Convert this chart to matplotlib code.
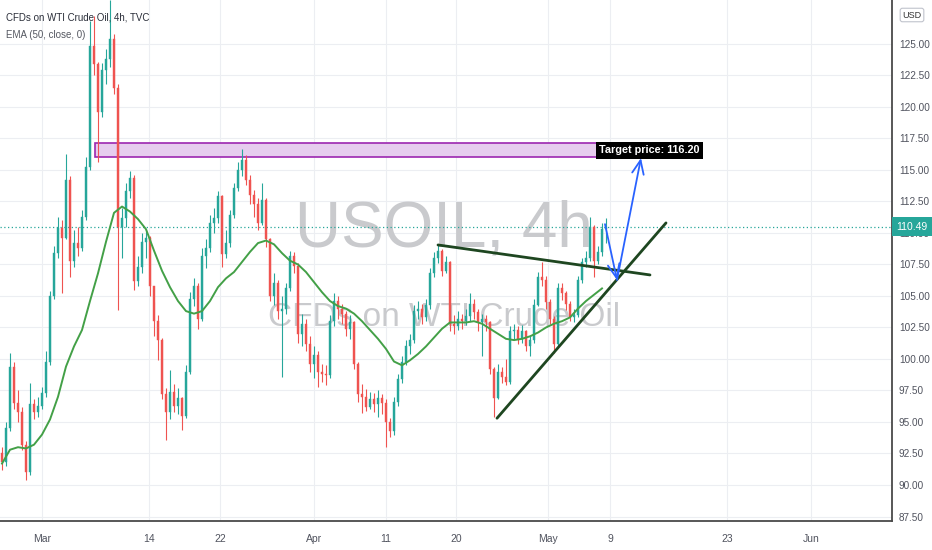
import numpy as np
import matplotlib
matplotlib.use("Agg")
import matplotlib.pyplot as plt
from matplotlib.patches import Rectangle

# 4h candles, USOIL, open = previous close
first_open = 92.5
close = [91.8, 94.5, 99.4, 96.5, 95.8, 93.2, 91.0, 96.4, 95.8, 96.3,
         97.3, 99.8, 105.0, 108.4, 110.4, 109.6, 114.2, 107.8, 109.2, 108.8,
         111.3, 115.2, 124.8, 123.4, 119.6, 122.9, 123.8, 125.4, 121.5, 110.5,
         111.2, 113.3, 114.4, 106.2, 107.3, 109.3, 109.6, 105.8, 103.0, 101.5,
         97.2, 95.8, 97.4, 96.3, 96.9, 95.5, 99.0, 104.8, 105.8, 103.2,
         108.2, 108.8, 110.8, 111.2, 112.9, 108.3, 109.2, 111.4, 113.6, 115.0,
         115.8, 114.2, 113.0, 112.3, 110.8, 112.6, 109.5, 105.0, 106.0, 103.8,
         104.0, 105.6, 108.2, 107.4, 102.0, 102.8, 101.2, 99.6, 100.3, 99.0,
         98.8, 98.7, 103.0, 104.6, 104.0, 103.6, 102.4, 102.9, 99.6, 97.2,
         97.0, 96.2, 96.8, 96.4, 96.9, 96.5, 95.0, 94.3, 96.6, 98.4,
         99.8, 101.0, 101.5, 103.8, 104.0, 103.3, 104.3, 106.8, 108.0, 108.6,
         107.0, 107.7, 102.8, 102.6, 103.2, 103.0, 103.4, 104.4, 103.7, 102.9,
         103.2, 102.9, 99.2, 96.9, 99.0, 98.6, 98.2, 102.2, 102.3, 101.6,
         102.2, 101.0, 101.5, 104.3, 106.5, 106.3, 104.5, 103.2, 101.2, 105.6,
         105.2, 104.4, 103.3, 103.5, 106.3, 107.7, 108.0, 110.5, 107.8, 108.5,
         110.3, 110.49]
high = [93.0, 95.0, 100.5, 99.8, 97.5, 96.2, 93.5, 98.1, 96.8, 97.0,
        97.8, 100.6, 105.4, 109.0, 111.3, 111.0, 116.3, 114.5, 110.2, 110.5,
        111.8, 116.0, 126.8, 127.2, 123.6, 123.5, 124.6, 128.5, 125.8, 121.8,
        112.0, 114.0, 114.9, 114.6, 108.2, 110.0, 110.3, 109.8, 104.5, 103.5,
        101.7, 97.7, 99.1, 98.0, 97.7, 97.0, 99.5, 105.3, 106.4, 106.0,
        108.8, 109.5, 111.4, 112.0, 113.3, 113.0, 110.2, 111.8, 114.0, 115.6,
        116.7, 116.2, 114.6, 113.4, 112.8, 114.0, 112.8, 109.6, 106.8, 106.3,
        105.0, 106.0, 108.6, 108.5, 107.6, 103.6, 103.2, 101.8, 101.0, 100.6,
        99.6, 99.5, 103.5, 105.2, 105.0, 104.4, 103.8, 103.5, 103.0, 99.8,
        98.0, 97.6, 97.4, 97.3, 97.5, 97.2, 96.8, 95.3, 97.0, 98.8,
        100.2, 101.5, 102.0, 104.3, 104.6, 104.4, 104.8, 107.2, 108.5, 109.1,
        108.7, 108.2, 107.8, 103.5, 103.8, 103.6, 104.0, 105.2, 104.8, 104.0,
        103.6, 103.5, 103.0, 99.4, 99.6, 99.4, 100.0, 102.6, 102.8, 102.6,
        102.7, 102.3, 101.8, 104.8, 106.9, 107.7, 106.6, 104.8, 103.4, 106.0,
        106.0, 105.4, 104.6, 104.0, 106.6, 108.0, 108.6, 111.3, 110.6, 109.0,
        110.8, 111.2]
low = [91.2, 91.5, 94.3, 96.0, 95.0, 92.8, 90.4, 90.8, 95.2, 95.4,
       96.0, 97.0, 99.5, 104.8, 108.0, 105.2, 109.5, 106.5, 107.3, 108.2,
       108.6, 111.0, 115.0, 122.5, 115.6, 119.2, 121.8, 123.2, 121.0, 103.9,
       108.0, 110.5, 112.8, 105.5, 105.8, 106.8, 108.0, 105.0, 101.8, 99.9,
       96.8, 93.6, 95.2, 95.8, 95.6, 94.4, 95.3, 98.8, 104.2, 102.4,
       103.0, 107.2, 108.5, 110.0, 110.8, 107.3, 108.0, 108.9, 111.2, 113.3,
       114.5, 113.8, 112.3, 111.3, 110.2, 110.6, 108.9, 104.6, 104.3, 103.2,
       98.6, 103.6, 105.4, 106.8, 101.3, 101.0, 100.6, 99.0, 98.5, 97.8,
       98.2, 97.9, 98.5, 102.6, 103.2, 102.8, 101.8, 101.6, 99.2, 96.6,
       95.7, 95.9, 96.0, 95.8, 95.4, 95.6, 93.0, 93.8, 94.0, 96.3,
       98.1, 99.5, 100.4, 101.3, 103.2, 102.8, 103.0, 104.0, 106.5, 107.6,
       106.6, 106.8, 102.2, 102.0, 102.3, 102.4, 102.7, 103.0, 103.2, 102.2,
       100.2, 102.2, 98.8, 95.4, 96.8, 98.1, 97.9, 98.0, 101.6, 101.2,
       101.3, 100.6, 100.2, 101.3, 104.2, 105.8, 104.0, 102.8, 100.5, 101.0,
       104.7, 103.9, 103.0, 102.9, 103.3, 106.0, 107.3, 107.8, 106.5, 107.5,
       108.2, 109.2]

# EMA(50, close) read every second candle
ema = [91.7, 92.8, 93.0, 92.9, 93.2, 94.0, 95.2, 97.0, 99.4, 101.0,
       102.3, 104.6, 106.8, 109.3, 111.6, 112.1, 111.7, 111.1, 110.3, 108.6,
       107.0, 105.7, 104.6, 103.8, 103.6, 103.8, 104.6, 105.7, 106.4, 106.9,
       107.7, 108.5, 109.2, 109.4, 109.1, 108.4, 107.8, 107.5, 106.9, 106.1,
       105.3, 104.6, 104.2, 104.0, 103.6, 103.0, 102.3, 101.6, 100.8, 99.8,
       99.5, 99.9, 100.4, 101.0, 101.7, 102.4, 102.9, 102.9, 102.9, 103.0,
       102.8, 102.4, 102.0, 101.6, 101.5, 101.6, 101.8, 102.1, 102.5, 102.8,
       103.0, 103.3, 104.0, 104.6, 105.1, 105.6]

date_labels = ["Mar", "14", "22", "Apr", "11", "20", "May", "9", "23", "Jun"]
date_pos = [10, 36.75, 54.5, 78, 96, 113.5, 136.5, 152, 181.25, 202.25]

# drawings
zone_top, zone_bottom = 117.15, 116.05
upper_line = ([109, 162], [109.05, 106.67])
lower_line = ([123.75, 166], [95.3, 110.8])
arrow_pts = ([150.75, 153.75, 159.75], [110.7, 106.27, 115.95])
target_text = "Target price: 116.20"

UP, DOWN = "#26a69a", "#ef5350"
NARROW = ["Liberation Sans Narrow", "Liberation Sans", "DejaVu Sans"]
plt.rcParams["font.family"] = NARROW

fig = plt.figure(figsize=(9.32, 5.5), dpi=100)
ax = fig.add_axes([0, 29 / 550, 892 / 932, 521 / 550])

c = np.array(close)
o = np.concatenate([[first_open], c[:-1]])
h = np.array(high)
l = np.array(low)
x = np.arange(len(c))
cols = np.where(c >= o, UP, DOWN)

ax.vlines(x, l, h, colors=cols, lw=0.8, zorder=3)
body = np.maximum(np.abs(c - o), 0.08)
ax.bar(x, body, bottom=np.minimum(o, c), width=0.62, color=cols,
       edgecolor=cols, lw=0.3, zorder=4)

ax.plot(np.arange(0, 2 * len(ema), 2), ema, color="#43a047", lw=1.4, zorder=5)

# watermark
ax.text(110.5, 110.3, "USOIL, 4h", fontsize=46, color="#c9cacd", ha="center",
        va="center", zorder=1)
ax.text(110.5, 103.3, "CFDs on WTI Crude Oil", fontsize=24, color="#c9cacd",
        ha="center", va="center", zorder=1)

# zone
ax.add_patch(Rectangle((23.25, zone_bottom), 125.5, zone_top - zone_bottom,
                       facecolor="#e6cdee", edgecolor="#9c27b0", lw=1.2,
                       zorder=2))

ax.plot(*upper_line, color="#1e4620", lw=2, zorder=6, solid_capstyle="round")
ax.plot(*lower_line, color="#1e4620", lw=2, zorder=6, solid_capstyle="round")

ax_x, ax_y = arrow_pts
for k in range(2):
    ax.annotate("", xy=(ax_x[k + 1], ax_y[k + 1]), xytext=(ax_x[k], ax_y[k]),
                arrowprops=dict(arrowstyle="->,head_length=0.7,head_width=0.3",
                                color="#2962ff", lw=1.3, mutation_scale=14,
                                shrinkA=0, shrinkB=0), zorder=7)

ax.text(149.2, 116.55, target_text, color="white", fontsize=7.8,
        fontweight="bold", ha="left", va="center", zorder=8,
        bbox=dict(boxstyle="square,pad=0.3", fc="black", ec="none"))

# last price line
ax.axhline(c[-1], color=UP, lw=0.9, ls=(0, (1, 2)), zorder=2)

ax.set_xlim(-0.5, 222.5)
ax.set_ylim(87.143, 128.49)
ax.set_yticks(np.arange(87.5, 125.1, 2.5))
ax.set_yticklabels([f"{v:.2f}" for v in np.arange(87.5, 125.1, 2.5)])
ax.set_xticks(date_pos)
ax.set_xticklabels(date_labels)
ax.yaxis.tick_right()
ax.tick_params(axis="y", length=0, pad=5, labelsize=7.2, labelcolor="#50535e")
ax.tick_params(axis="x", length=0, pad=9, labelsize=7.5, labelcolor="#50535e")
ax.grid(True, color="#eceef2", lw=0.8, zorder=0)
ax.set_axisbelow(True)
for s in ["top", "left"]:
    ax.spines[s].set_visible(False)
for s in ["bottom", "right"]:
    ax.spines[s].set_color("#4a4a4a")
    ax.spines[s].set_linewidth(1.3)

ax.text(1.0224, c[-1], f"{c[-1]:.2f}", transform=ax.get_yaxis_transform(),
        color="white", fontsize=7.5, ha="center", va="center", zorder=10,
        clip_on=False,
        bbox=dict(boxstyle="square,pad=0.45", fc=UP, ec="none"))

fig.text(912 / 932, 1 - 15 / 550, "USD", fontsize=6.5, color="#333333",
         ha="center", va="center",
         bbox=dict(boxstyle="round,pad=0.25", fc="white", ec="#c0c3cc", lw=0.8))

fig.text(6 / 932, 1 - 17 / 550, "CFDs on WTI Crude Oil, 4h, TVC", fontsize=7,
         color="#2a2e39", ha="left", va="center")
fig.text(6 / 932, 1 - 35 / 550, "EMA (50, close, 0)", fontsize=7,
         color="#555861", ha="left", va="center")

fig.savefig("out.png", dpi=100, facecolor="white")
